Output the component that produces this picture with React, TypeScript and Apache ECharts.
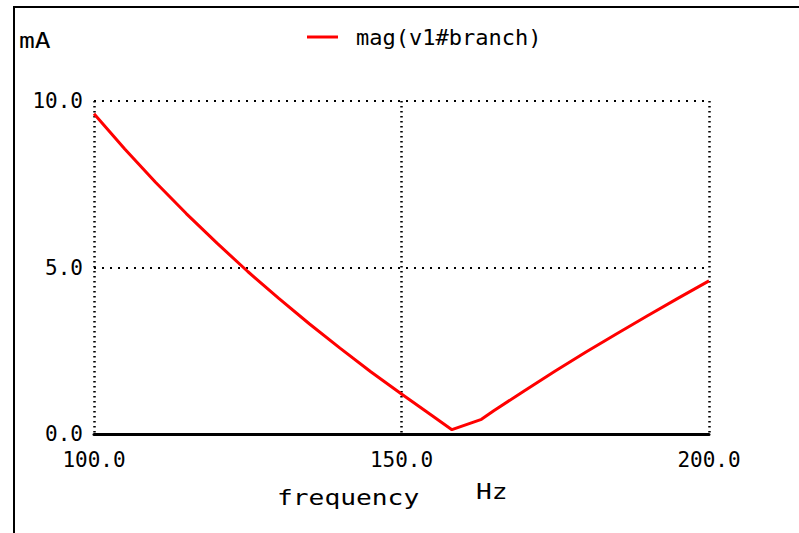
import React, { useEffect, useRef } from "react";
import * as echarts from "echarts";

const frequencies = [100, 105, 110, 115, 120, 125, 130, 135, 140, 145, 150, 155, 158.2, 163, 165, 170, 175, 180, 185, 190, 195, 200];
const magnitudes = [9.62, 8.56, 7.56, 6.62, 5.73, 4.88, 4.08, 3.31, 2.58, 1.87, 1.2, 0.55, 0.13, 0.44, 0.7, 1.3, 1.89, 2.46, 3.01, 3.55, 4.08, 4.6];
const seriesName = "mag(v1#branch)";
const yTicks = [0, 5, 10];
const xTicks = [100, 150, 200];

const FONT = "DejaVu Sans Mono";

export default function App() {
  const ref = useRef<HTMLDivElement>(null);
  useEffect(() => {
    if (!ref.current) return;
    const chart = echarts.init(ref.current, undefined, { renderer: "svg" });
    chart.setOption({
      animation: false,
      backgroundColor: "#ffffff",
      grid: { left: 94, top: 101, right: 90, bottom: 99 },
      legend: {
        left: 307,
        top: 26,
        padding: 0,
        icon: "rect",
        itemWidth: 31,
        itemHeight: 3,
        textStyle: { fontFamily: FONT, fontSize: 22, color: "#000", padding: [0, 0, 0, 13] },
        data: [seriesName],
      },
      xAxis: {
        type: "value",
        min: xTicks[0],
        max: xTicks[xTicks.length - 1],
        interval: 50,
        axisLine: { show: true, lineStyle: { color: "#000", width: 3 } },
        axisTick: { show: false },
        axisLabel: {
          margin: 15,
          fontFamily: FONT,
          fontSize: 21,
          color: "#000",
          formatter: (v: number) => v.toFixed(1),
        },
        splitLine: { show: true, lineStyle: { color: "#000", width: 2.5, type: [1.5, 3.5] } },
      },
      yAxis: {
        type: "value",
        min: yTicks[0],
        max: yTicks[yTicks.length - 1],
        interval: 5,
        axisLine: { show: false },
        axisTick: { show: false },
        axisLabel: {
          margin: 11,
          fontFamily: FONT,
          fontSize: 21,
          color: "#000",
          formatter: (v: number) => v.toFixed(1),
        },
        splitLine: { show: true, lineStyle: { color: "#000", width: 2, type: [2, 6] } },
      },
      graphic: [
        { type: "rect", shape: { x: 13, y: 6, width: 786, height: 2 }, style: { fill: "#000" } },
        { type: "rect", shape: { x: 13, y: 6, width: 2, height: 527 }, style: { fill: "#000" } },
        { type: "text", x: 19, y: 30, scaleX: 1.25, style: { text: "mA", fontFamily: FONT, fontSize: 21, fill: "#000" } },
        { type: "text", x: 277, y: 487, scaleX: 1.25, style: { text: "frequency", fontFamily: FONT, fontSize: 21, fill: "#000" } },
        { type: "text", x: 476, y: 481, scaleX: 1.25, style: { text: "Hz", fontFamily: FONT, fontSize: 21, fill: "#000" } },
      ],
      series: [
        {
          name: seriesName,
          type: "line",
          data: frequencies.map((f, i) => [f, magnitudes[i]]),
          showSymbol: false,
          lineStyle: { color: "#ff0000", width: 3 },
          itemStyle: { color: "#ff0000" },
        },
      ],
    });
    return () => chart.dispose();
  }, []);
  return <div ref={ref} style={{ width: 799, height: 533, position: "absolute", left: 0, top: 0 }} />;
}
